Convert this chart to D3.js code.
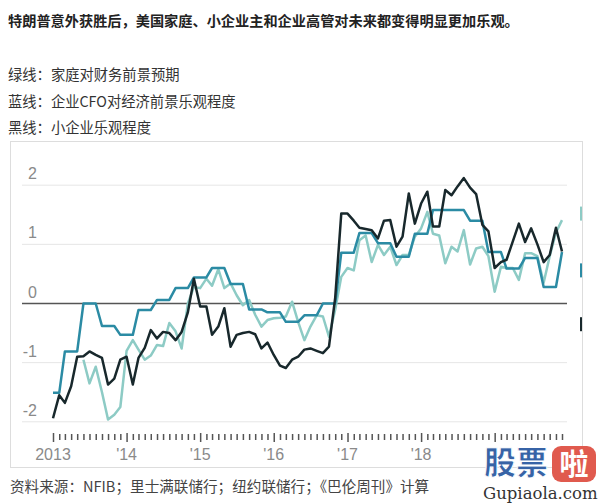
<!DOCTYPE html>
<html>
<head>
<meta charset="utf-8">
<script src="https://cdn.jsdelivr.net/npm/d3@7"></script>
<style>
body { margin: 0; background: #fff; }
svg { display: block; }
</style>
</head>
<body>
<div id="chart"></div>
<script>
// monthly data, starting Jan 2013
var startMonth = new Date(2013, 0, 1);
var yearLabels = ["2013", "'14", "'15", "'16", "'17", "'18"];
var yTicks = [-2, -1, 0, 1, 2];

// 绿线: household expectations (starts Jun 2013)
var household = [null, null, null, null, null,
    -0.95, -1.35, -1.07, -1.5, -1.96, -1.88, -1.75, -0.8, -0.62, -0.78,
    -0.95, -0.88, -0.7, -0.72, -0.33, -0.47, -0.76, 0.0, 0.28, 0.26,
    0.42, 0.3, 0.58, 0.26, 0.34, 0.14, -0.03, 0.06, -0.19, -0.39,
    -0.28, -0.25, -0.24, -0.22, 0.03, -0.31, -0.62, -0.39, -0.2, -0.22,
    -0.56, -0.1, 0.45, 0.6, 0.56, 1.07, 1.15, 0.7, 0.99, 0.82,
    0.96, 0.65, 0.82, 0.82, 1.13, 1.27, 1.55, 1.18, 1.15, 0.68,
    0.96, 0.88, 1.24, 0.66, 0.93, 0.96, 0.8, 0.2, 0.62, 0.6,
    0.6, 0.4, 0.85, 0.85, 0.8, 0.35, 0.8, 1.2, 1.41];

// 蓝线: CFO optimism (quarterly survey, shown monthly)
var cfo = [-1.51, -1.51,
    -0.81, -0.81, -0.81, 0.0, 0.0, 0.0, -0.38, -0.38, -0.38,
    -0.53, -0.53, -0.53, -0.11, -0.11, -0.11, 0.06, 0.06, 0.06,
    0.26, 0.26, 0.26, 0.44, 0.44, 0.44, 0.6, 0.6, 0.6,
    0.33, 0.33, 0.33, -0.1, -0.1, -0.1, -0.15, -0.15, -0.15,
    -0.31, -0.31, -0.31, -0.2, -0.2, -0.2, 0.0, 0.0, 0.0,
    0.86, 0.86, 0.86, 1.19, 1.19, 1.19, 1.02, 1.02, 1.02,
    0.79, 0.79, 0.79, 1.18, 1.18, 1.18, 1.58, 1.58, 1.58,
    1.58, 1.58, 1.58, 1.4, 1.4, 1.4, 0.87, 0.87, 0.87,
    0.59, 0.59, 0.59, 0.77, 0.77, 0.77, 0.28, 0.28, 0.28,
    0.87];

// 黑线: small business optimism
var smallBiz = [-1.94, -1.55, -1.68, -1.4, -0.9, -0.89, -0.81, -0.87, -0.92, -1.37,
    -1.27, -0.95, -0.9, -1.37, -0.92, -0.75, -0.45, -0.59, -0.48, -0.5,
    -0.62, -0.48, -0.15, 0.42, -0.05, -0.05, -0.53, -0.39, -0.08, -0.73,
    -0.53, -0.5, -0.48, -0.52, -0.76, -0.66, -0.87, -1.05, -1.09, -0.95,
    -0.9, -0.78, -0.76, -0.8, -0.84, -0.73, 0.1, 1.52, 1.52, 1.4,
    1.28, 1.26, 1.24, 1.1, 1.4, 1.41, 0.96, 1.13, 1.86, 1.35,
    1.69, 1.89, 1.3, 1.3, 1.92, 1.83, 1.98, 2.12, 1.96, 1.85,
    1.33, 1.22, 0.6, 0.7, 0.74, 1.05, 1.35, 1.04, 1.27, 1.0,
    0.7, 0.82, 1.28, 0.88];

// values of the end labels cut off at the right edge
var endMarks = [['household', 1.52], ['cfo', 0.56], ['smallBiz', -0.35]];

var titleText = "特朗普意外获胜后，美国家庭、小企业主和企业高管对未来都变得明显更加乐观。";
var legendText = ["绿线：家庭对财务前景预期", "蓝线：企业CFO对经济前景乐观程度", "黑线：小企业乐观程度"];
var sourceText = "资料来源：NFIB；里士满联储行；纽约联储行；《巴伦周刊》计算";

var colors = { household: '#8dcbc5', cfo: '#2b8ba4', smallBiz: '#18282c' };
var cjk = '"Noto Sans CJK SC", "Noto Sans", sans-serif';
var latin = '"Liberation Sans", Arial, sans-serif';

var svg = d3.select('#chart')
    .append('svg')
        .attr('width', 600)
        .attr('height', 504);

svg.append('rect').attr('width', 600).attr('height', 504).attr('fill', '#fff');

// header
svg.append('text')
    .attr('x', 8).attr('y', 26)
    .attr('font-family', cjk).attr('font-size', 14.2).attr('font-weight', 700)
    .attr('fill', '#222')
    .text(titleText);

legendText.forEach(function(t, i) {
    svg.append('text')
        .attr('x', 8).attr('y', 80 + i * 26.5)
        .attr('font-family', cjk).attr('font-size', 14.3)
        .attr('fill', '#333')
        .text(t);
});

// frame
svg.append('rect')
    .attr('x', 10.5).attr('y', 141.5)
    .attr('width', 572).attr('height', 326)
    .attr('fill', 'none')
    .attr('stroke', '#ddd');

var months = d3.range(smallBiz.length).map(function(i) {
    return d3.timeMonth.offset(startMonth, i);
});

var x = d3.scaleTime()
    .domain([months[0], months[months.length - 1]])
    .range([53, 562]);

var y = d3.scaleLinear()
    .domain([-2, 2])
    .range([421.8, 185.2]);

// grid
svg.selectAll('line.grid')
    .data(yTicks)
    .enter().append('line')
        .attr('class', 'grid')
        .attr('x1', 22).attr('x2', 567)
        .attr('y1', function(d) { return y(d); })
        .attr('y2', function(d) { return y(d); })
        .attr('stroke', function(d) { return d === 0 ? '#555' : '#e6e6e6'; })
        .attr('stroke-width', function(d) { return d === 0 ? 1.5 : 1; });

svg.selectAll('text.ylab')
    .data(yTicks)
    .enter().append('text')
        .attr('class', 'ylab')
        .attr('x', 37)
        .attr('y', function(d) { return y(d) - 6; })
        .attr('text-anchor', 'end')
        .attr('font-family', latin).attr('font-size', 16)
        .attr('fill', '#8a8a8a')
        .text(function(d) { return d; });

// x axis: monthly ticks, long tick at January
var xAxis = d3.axisBottom(x)
    .tickValues(months)
    .tickSize(6)
    .tickFormat('');

var axisG = svg.append('g')
    .attr('transform', 'translate(0,434)')
    .call(xAxis);
axisG.select('.domain').remove();
axisG.selectAll('.tick line')
    .attr('stroke', '#555')
    .attr('stroke-width', 1.5)
    .attr('y1', function(d) { return d.getMonth() === 0 ? -1 : 0; })
    .attr('y2', function(d) { return d.getMonth() === 0 ? 8 : 6; });

svg.selectAll('text.xlab')
    .data(yearLabels)
    .enter().append('text')
        .attr('class', 'xlab')
        .attr('x', function(d, i) { return x(new Date(2013 + i, 0, 1)); })
        .attr('y', 460)
        .attr('text-anchor', 'middle')
        .attr('font-family', latin).attr('font-size', 16)
        .attr('fill', '#8a8a8a')
        .text(function(d) { return d; });

// lines
var line = d3.line()
    .defined(function(d) { return d != null; })
    .x(function(d, i) { return x(months[i]); })
    .y(function(d) { return y(d); });

[['household', household], ['cfo', cfo], ['smallBiz', smallBiz]].forEach(function(s) {
    svg.append('path')
        .datum(s[1])
        .attr('d', line)
        .attr('fill', 'none')
        .attr('stroke', colors[s[0]])
        .attr('stroke-width', 2.5)
        .attr('stroke-linejoin', 'round');
});

// clipped end markers at the right edge
endMarks.forEach(function(m) {
    svg.append('rect')
        .attr('x', 580).attr('y', y(m[1]) - 7)
        .attr('width', 2).attr('height', 14)
        .attr('fill', colors[m[0]]);
});

// source
svg.append('text')
    .attr('x', 10).attr('y', 492)
    .attr('font-family', cjk).attr('font-size', 14.6)
    .attr('fill', '#444')
    .text(sourceText);

// watermark
var wm = svg.append('g');
wm.append('text')
    .attr('x', 484).attr('y', 474)
    .attr('font-family', cjk).attr('font-size', 32).attr('font-weight', 900)
    .attr('fill', '#3763a6')
    .attr('stroke', '#fff').attr('stroke-width', 1)
    .text('股票');
wm.append('rect')
    .attr('x', 552).attr('y', 446)
    .attr('width', 44).attr('height', 36).attr('rx', 9)
    .attr('fill', '#e05a4e');
wm.append('text')
    .attr('x', 574).attr('y', 475)
    .attr('text-anchor', 'middle')
    .attr('font-family', cjk).attr('font-size', 29).attr('font-weight', 700)
    .attr('fill', '#fff')
    .text('啦');
wm.append('text')
    .attr('x', 483).attr('y', 499)
    .attr('font-family', '"DejaVu Serif", "Liberation Serif", serif').attr('font-size', 16.5)
    .attr('fill', '#333')
    .text('Gupiaola.com');
</script>
</body>
</html>
